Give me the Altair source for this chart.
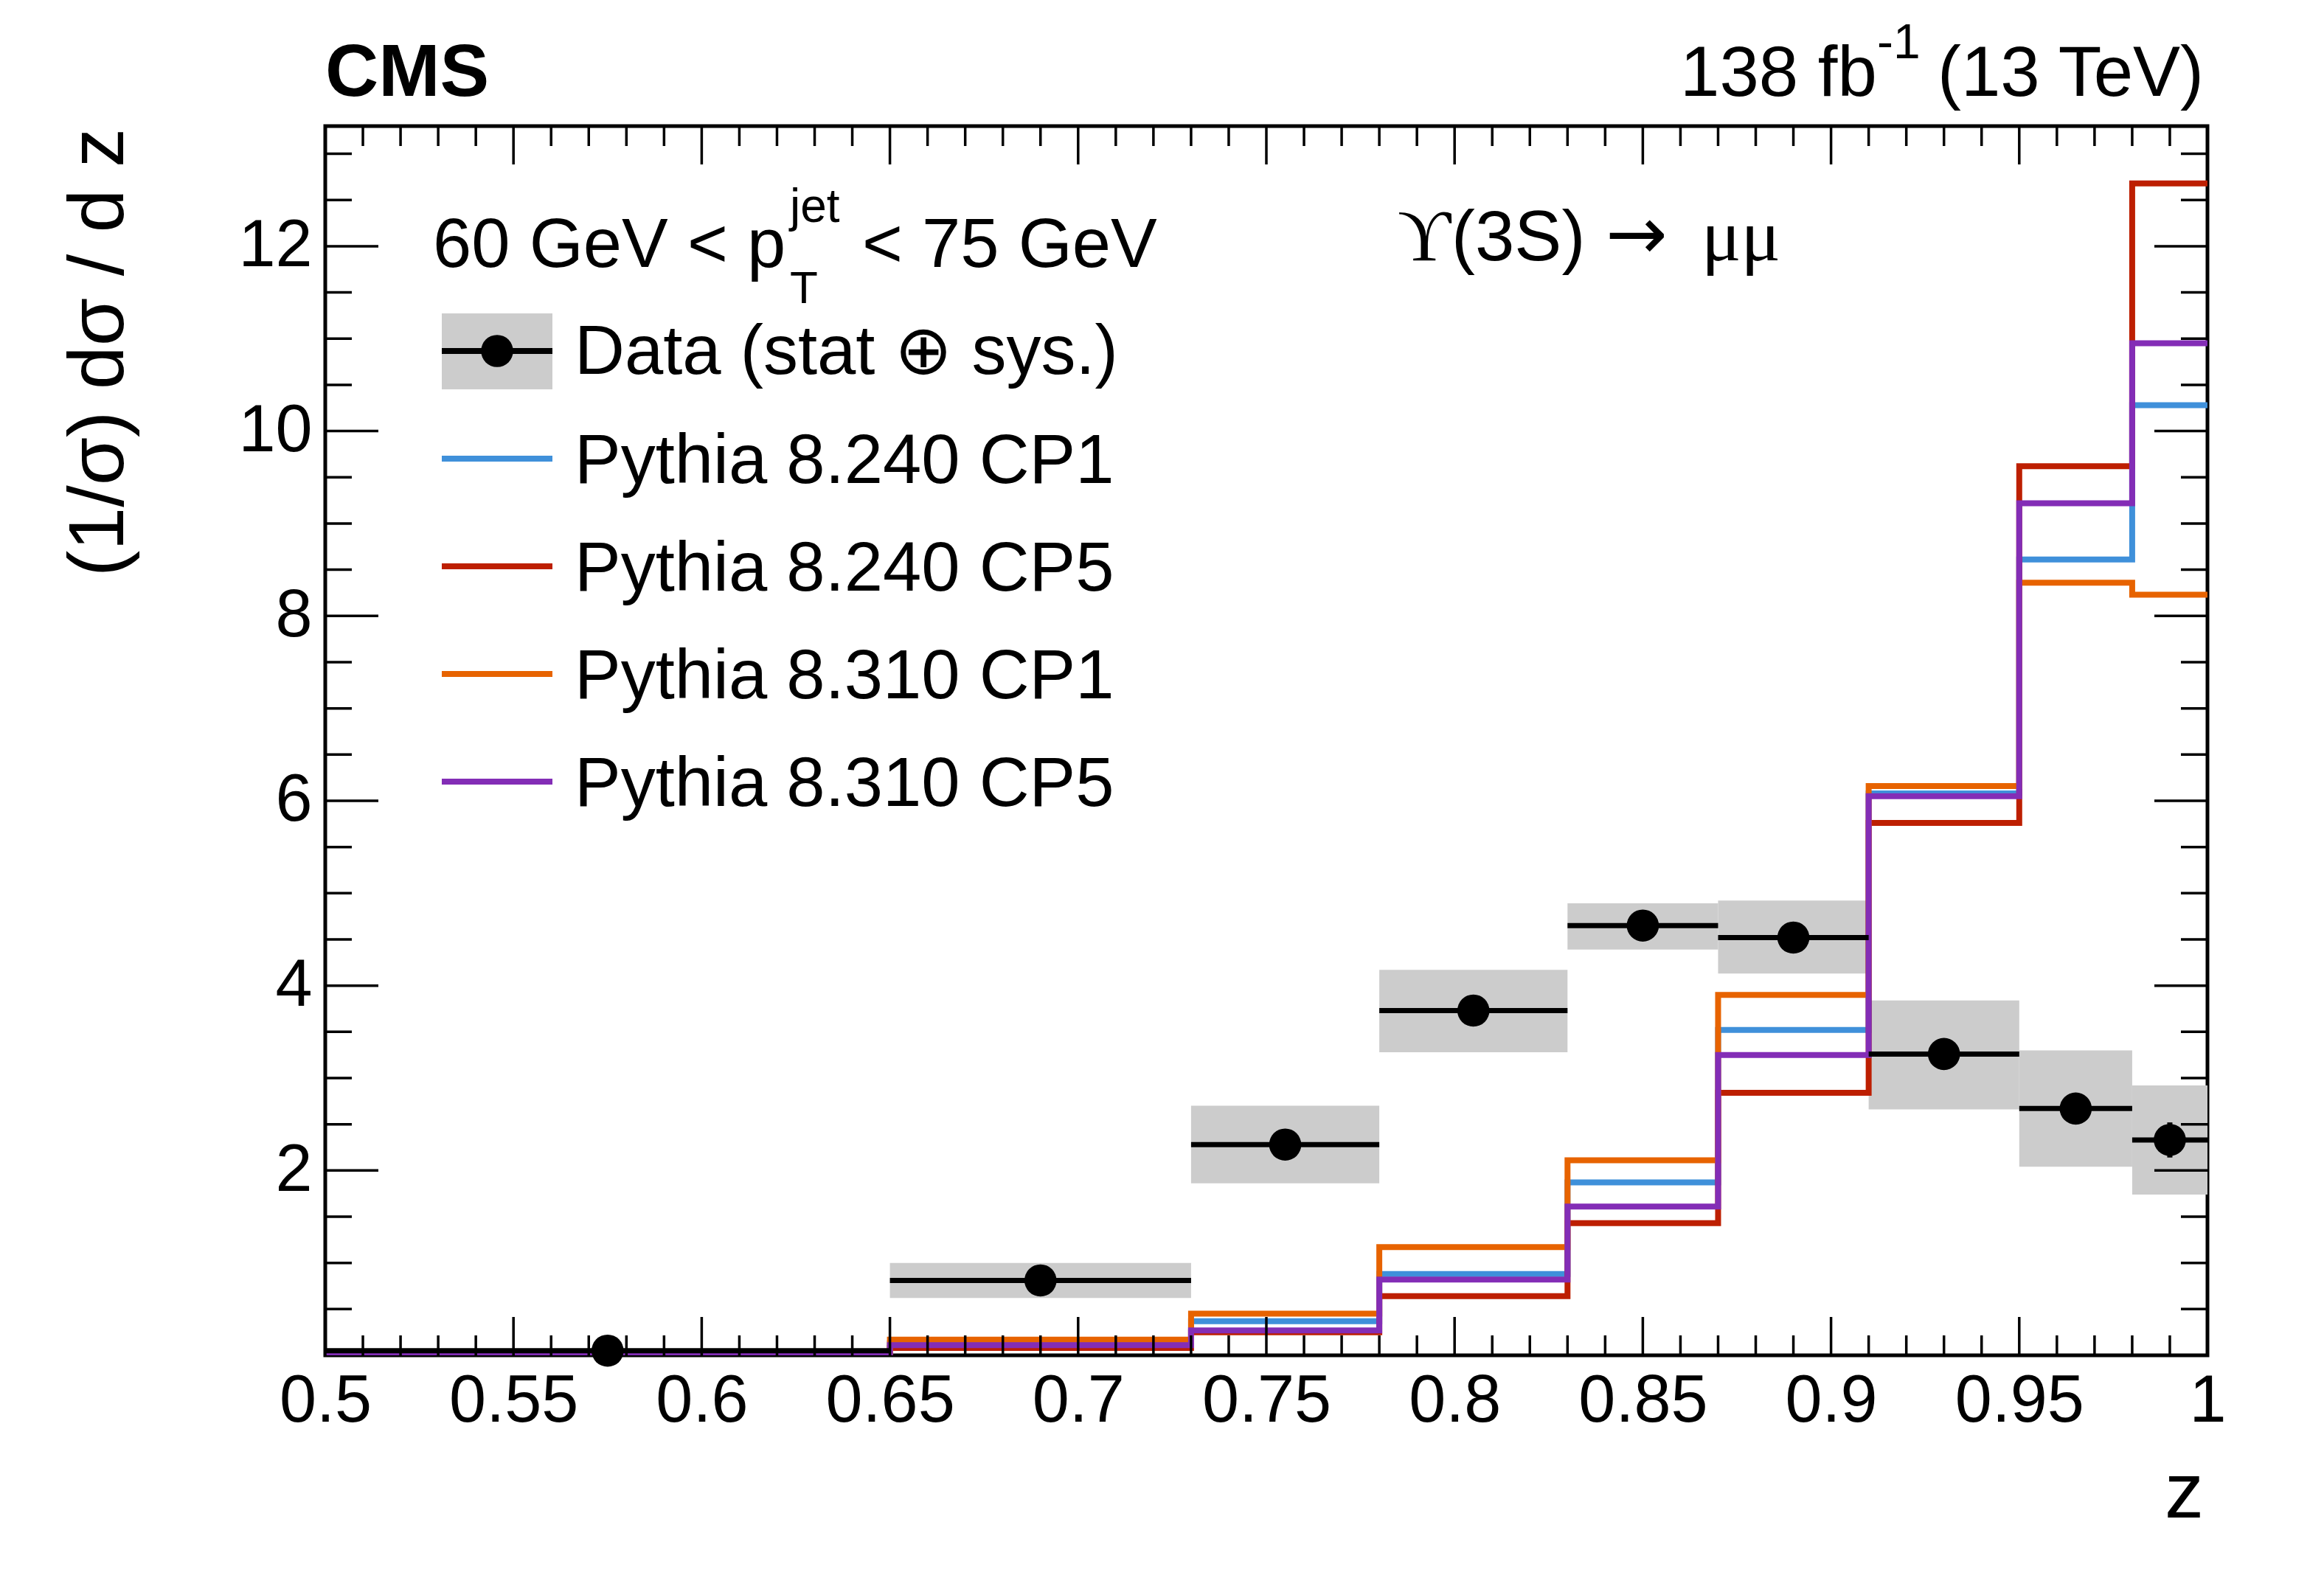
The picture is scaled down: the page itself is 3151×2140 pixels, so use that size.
import altair as alt
import pandas as pd

# ---------------- data ----------------
bin_edges = [0.5, 0.65, 0.73, 0.78, 0.83, 0.87, 0.91, 0.95, 0.98, 1.0]

data_z = [0.575, 0.69, 0.755, 0.805, 0.85, 0.89, 0.93, 0.965, 0.99]
data_val = [0.05, 0.81, 2.28, 3.73, 4.65, 4.52, 3.26, 2.67, 2.33]
data_stat = [0.01, 0.05, 0.09, 0.10, 0.10, 0.10, 0.12, 0.14, 0.19]
data_tot_lo = [0.03, 0.62, 1.86, 3.28, 4.39, 4.13, 2.66, 2.04, 1.74]
data_tot_hi = [0.07, 1.00, 2.70, 4.17, 4.89, 4.92, 3.84, 3.30, 2.92]

mc_names = ["Pythia 8.240 CP1", "Pythia 8.240 CP5", "Pythia 8.310 CP1", "Pythia 8.310 CP5"]
mc_colors = ["#3f90da", "#bd1f01", "#e76300", "#832db6"]
mc_8240_cp1 = [0.03, 0.13, 0.37, 0.88, 1.87, 3.52, 6.08, 8.61, 10.28]
mc_8240_cp5 = [0.01, 0.08, 0.25, 0.64, 1.43, 2.84, 5.76, 9.62, 12.68]
mc_8310_cp1 = [0.03, 0.17, 0.45, 1.17, 2.11, 3.90, 6.16, 8.36, 8.23]
mc_8310_cp5 = [0.03, 0.11, 0.27, 0.82, 1.61, 3.25, 6.05, 9.22, 10.95]
mc_series = [mc_8240_cp1, mc_8240_cp5, mc_8310_cp1, mc_8310_cp5]

x_major_ticks = [0.5, 0.55, 0.6, 0.65, 0.7, 0.75, 0.8, 0.85, 0.9, 0.95, 1.0]
x_minor_ticks = [round(0.5 + 0.01 * i, 2) for i in range(51) if i % 5 != 0]
y_label_ticks = [2, 4, 6, 8, 10, 12]
y_major_ticks = [2, 4, 6, 8, 10, 12]
y_minor_ticks = [0.5 * i for i in range(1, 27) if i % 4 != 0]

data_label = "Data (stat \u2295 sys.)"
header_parts = ["60 GeV < p", "jet", "T", "< 75 GeV"]
lumi_parts = ["138 fb", "-1", "(13 TeV)"]
process_parts = ["\u03d2", "(3S)", "\u2192", "\u03bc\u03bc"]
y_title = "(1/\u03c3) d\u03c3 / d z"
x_title = "z"
cms_label = "CMS"

# ---------------- layout ----------------
W, H = 2552, 1667
FONT = "Liberation Sans, Arial, Helvetica, DejaVu Sans, sans-serif"
SERIF = "Liberation Serif, DejaVu Serif, serif"
ARROWFONT = "DejaVu Sans, sans-serif"

xs = alt.Scale(domain=[0.5, 1.0], nice=False, zero=False)
ys = alt.Scale(domain=[0.0, 13.3], nice=False, zero=False)

x_axis = alt.Axis(values=x_major_ticks, format="~g", labelFont=FONT, labelFontSize=90,
                  labelColor="black", labelPadding=89, labelBaseline="alphabetic",
                  ticks=False, tickSize=0, domain=False, grid=False, title=None,
                  labelFlush=False, labelOverlap=False)
y_axis = alt.Axis(values=y_label_ticks, format="~g", labelFont=FONT, labelFontSize=90,
                  labelColor="black", labelPadding=18, labelBaseline="middle",
                  ticks=False, tickSize=0, domain=False, grid=False, title=None,
                  labelFlush=False, labelOverlap=False)

lo_edges = bin_edges[:-1]
hi_edges = bin_edges[1:]

dat = pd.DataFrame({
    "z": data_z, "val": data_val, "lo": lo_edges, "hi": hi_edges,
    "tlo": data_tot_lo, "thi": data_tot_hi,
    "slo": [v - e for v, e in zip(data_val, data_stat)],
    "shi": [v + e for v, e in zip(data_val, data_stat)],
})

layers = []

# uncertainty boxes
layers.append(alt.Chart(dat).mark_rect(color="#cccccc").encode(
    x=alt.X("lo:Q", scale=xs, axis=x_axis), x2="hi:Q",
    y=alt.Y("tlo:Q", scale=ys, axis=y_axis), y2="thi:Q"))

# MC histograms (step lines)
for vals, col in zip(mc_series, mc_colors):
    hdf = pd.DataFrame({"x": bin_edges, "y": list(vals) + [vals[-1]]})
    layers.append(alt.Chart(hdf).mark_line(
        interpolate="step-after", color=col, strokeWidth=8,
        strokeCap="butt", strokeJoin="miter", clip=True).encode(
        x=alt.X("x:Q", scale=xs, axis=x_axis),
        y=alt.Y("y:Q", scale=ys, axis=y_axis)))

# data horizontal bars, stat bars, points
layers.append(alt.Chart(dat).mark_rule(color="black", strokeWidth=7).encode(
    x=alt.X("lo:Q", scale=xs, axis=x_axis), x2="hi:Q",
    y=alt.Y("val:Q", scale=ys, axis=y_axis)))
layers.append(alt.Chart(dat).mark_rule(color="black", strokeWidth=7).encode(
    x=alt.X("z:Q", scale=xs, axis=x_axis),
    y=alt.Y("slo:Q", scale=ys, axis=y_axis), y2="shi:Q"))
layers.append(alt.Chart(dat).mark_point(filled=True, shape="circle", size=1900,
                                         color="black", opacity=1).encode(
    x=alt.X("z:Q", scale=xs, axis=x_axis),
    y=alt.Y("val:Q", scale=ys, axis=y_axis)))

# inward ticks
def xticks(vals, L, top):
    df = pd.DataFrame({"v": vals})
    y0, y1 = (0, L) if top else (H - L, H)
    return alt.Chart(df).mark_rule(color="black", strokeWidth=3.5).encode(
        x=alt.X("v:Q", scale=xs, axis=x_axis), y=alt.value(y0), y2=alt.value(y1))

def yticks(vals, L, right):
    df = pd.DataFrame({"v": vals})
    x0, x1 = (W - L, W) if right else (0, L)
    return alt.Chart(df).mark_rule(color="black", strokeWidth=3.5).encode(
        y=alt.Y("v:Q", scale=ys, axis=y_axis), x=alt.value(x0), x2=alt.value(x1))

for top in (False, True):
    layers.append(xticks(x_major_ticks, 52, top))
    layers.append(xticks(x_minor_ticks, 27, top))
for right in (False, True):
    layers.append(yticks(y_major_ticks, 72, right))
    layers.append(yticks(y_minor_ticks, 36, right))

one = pd.DataFrame({"a": [0]})

def txt(s, x, y, size, font=FONT, weight="normal", align="left", angle=0):
    return alt.Chart(one).mark_text(
        text=s, align=align, baseline="alphabetic", font=font, fontSize=size,
        fontWeight=weight, color="black", angle=angle).encode(
        x=alt.value(x), y=alt.value(y))

# legend
layers.append(alt.Chart(one).mark_rect(color="#cccccc").encode(
    x=alt.value(158), x2=alt.value(308), y=alt.value(254), y2=alt.value(357)))
layers.append(alt.Chart(one).mark_rule(color="black", strokeWidth=8).encode(
    x=alt.value(158), x2=alt.value(308), y=alt.value(305)))
layers.append(alt.Chart(one).mark_point(filled=True, shape="circle", size=1900,
                                         color="black", opacity=1).encode(
    x=alt.value(233), y=alt.value(305)))
layers.append(txt(data_label, 338, 336, 94))
for i, (name, col) in enumerate(zip(mc_names, mc_colors)):
    yy = 451 + 146 * i
    layers.append(alt.Chart(one).mark_rule(color=col, strokeWidth=8).encode(
        x=alt.value(158), x2=alt.value(308), y=alt.value(yy)))
    layers.append(txt(name, 338, yy + 33, 94))

# header
layers.append(txt(header_parts[0], 146, 191, 94))
layers.append(txt(header_parts[1], 630, 130, 64))
layers.append(txt(header_parts[2], 630, 240, 62))
layers.append(txt(header_parts[3], 728, 191, 94))

# process label
layers.append(txt(process_parts[0], 1454, 182, 100, font=SERIF))
layers.append(txt(process_parts[1], 1527, 182, 96))
layers.append(txt(process_parts[2], 1736, 180, 100, font=ARROWFONT))
layers.append(txt(process_parts[3], 1866, 182, 100, font=SERIF))

# top labels
layers.append(txt(cms_label, 0, -41, 100, weight="bold"))
layers.append(txt(lumi_parts[0], 1837, -41, 96))
layers.append(txt(lumi_parts[1], 2104, -92, 66))
layers.append(txt(lumi_parts[2], 2186, -41, 96))

# axis titles
layers.append(txt(y_title, -274, 3, 106, align="right", angle=270))
layers.append(txt(x_title, 2547, 1887, 106, align="right"))

chart = alt.layer(*layers).properties(
    width=W, height=H,
    padding={"left": 433, "top": 163, "right": 140, "bottom": 290},
    autosize=alt.AutoSizeParams(type="none"),
    background="white",
).configure_view(stroke="black", strokeWidth=5)

chart.save("out.html", embed_options={"renderer": "svg", "actions": False})
